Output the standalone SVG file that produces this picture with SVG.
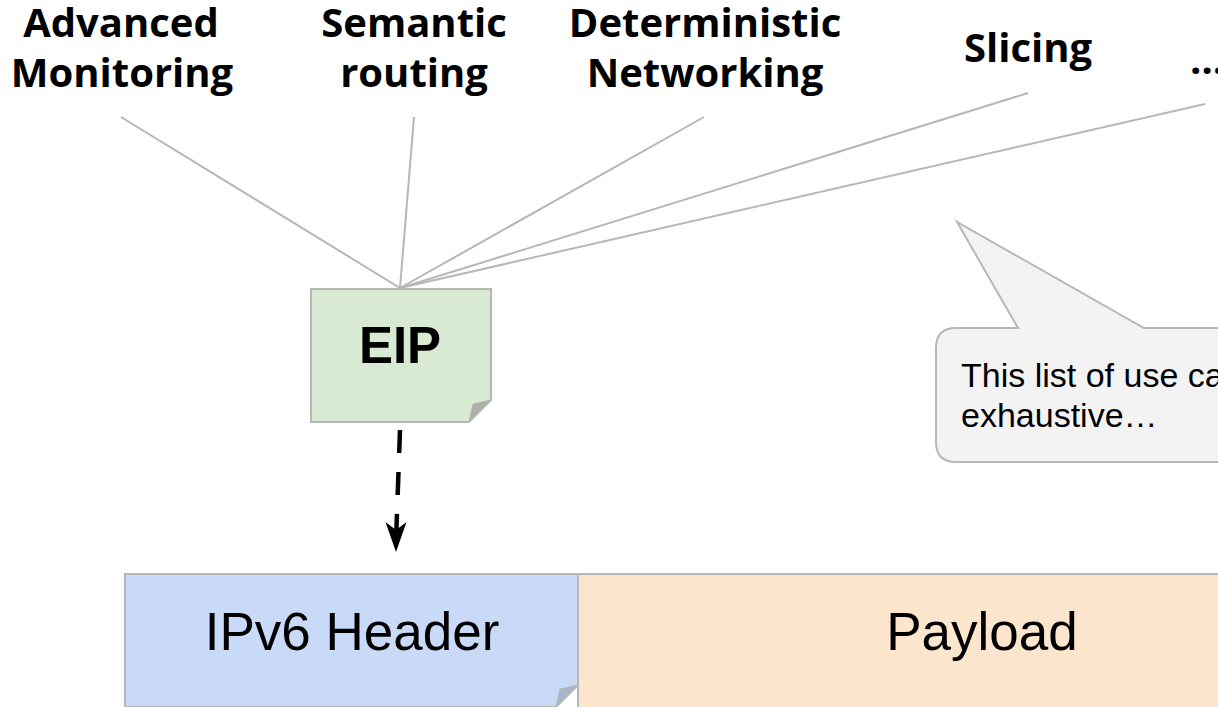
<svg xmlns="http://www.w3.org/2000/svg" width="1218" height="707" viewBox="0 0 1218 707">
<style>
.lbl{font-family:"Open Sans",sans-serif;font-weight:bold;font-size:40px;fill:#000;text-anchor:middle}
.box{stroke:#b7b7b7;stroke-width:2}
.fold{stroke:#b7b7b7;stroke-width:1}
.big{font-family:"Liberation Sans",Arial,sans-serif;font-size:53px;fill:#000;text-anchor:middle}
.note{font-family:"Liberation Sans",Arial,sans-serif;font-size:34px;fill:#000}
.conn{stroke:#b7b7b7;stroke-width:2;fill:none}
</style>
<rect width="1218" height="707" fill="#fff"/>
<g id="labels">
<g id="advanced-monitoring"><text class="lbl" x="121" y="37">Advanced</text><text class="lbl" x="122" y="87">Monitoring</text></g>
<g id="semantic-routing"><text class="lbl" x="414" y="37">Semantic</text><text class="lbl" x="414" y="87">routing</text></g>
<g id="deterministic-networking"><text class="lbl" x="705" y="37">Deterministic</text><text class="lbl" x="705" y="87">Networking</text></g>
<g id="slicing"><text class="lbl" x="1028" y="62">Slicing</text></g>
<g id="more"><text class="lbl" x="1190" y="74" style="text-anchor:start">…</text></g>
</g>
<g id="connectors">
<line class="conn" x1="121" y1="117" x2="400" y2="288"/>
<line class="conn" x1="414" y1="117" x2="400" y2="288"/>
<line class="conn" x1="704" y1="117" x2="400" y2="288"/>
<line class="conn" x1="1028" y1="93" x2="400" y2="288"/>
<line class="conn" x1="1205" y1="104" x2="400" y2="288"/>
<path d="M400,430 L396.4,530" stroke="#000" stroke-width="4.5" stroke-dasharray="23 19" fill="none"/>
<path d="M385.5,522 L396,552 L406.5,522 L396,530 Z" fill="#000"/>
</g>
<g id="eip">
<path class="box" d="M311,289 H491 V400 L469,422 H311 Z" fill="#d9ead3"/>
<path class="fold" d="M491,400 L469,422 L473,404 Z" fill="#aeaeae"/>
<text x="400" y="363" style="font-family:'Liberation Sans',Arial,sans-serif;font-weight:bold;font-size:51px;text-anchor:middle">EIP</text>
</g>
<g id="callout">
<path d="M956,328 H1018 L957,222 L1144,328 H1220 V462 H956 Q936,462 936,442 V348 Q936,328 956,328 Z" fill="#f3f3f3" stroke="#b7b7b7" stroke-width="2"/>
<text class="note" x="961" y="387">This list of use ca</text>
<text class="note" x="961" y="427">exhaustive…</text>
</g>
<g id="ipv6-header">
<path class="box" d="M125,574 H578 V685 L556,707 H125 Z" fill="#c9daf8"/>
<path class="fold" d="M578,685 L556,707 L560,689 Z" fill="#a6b4cc"/>
<text class="big" x="352" y="650">IPv6 Header</text>
</g>
<g id="payload">
<rect class="box" x="578" y="574" width="650" height="140" fill="#fce5cd"/>
<text class="big" x="982" y="650">Payload</text>
</g>
</svg>
